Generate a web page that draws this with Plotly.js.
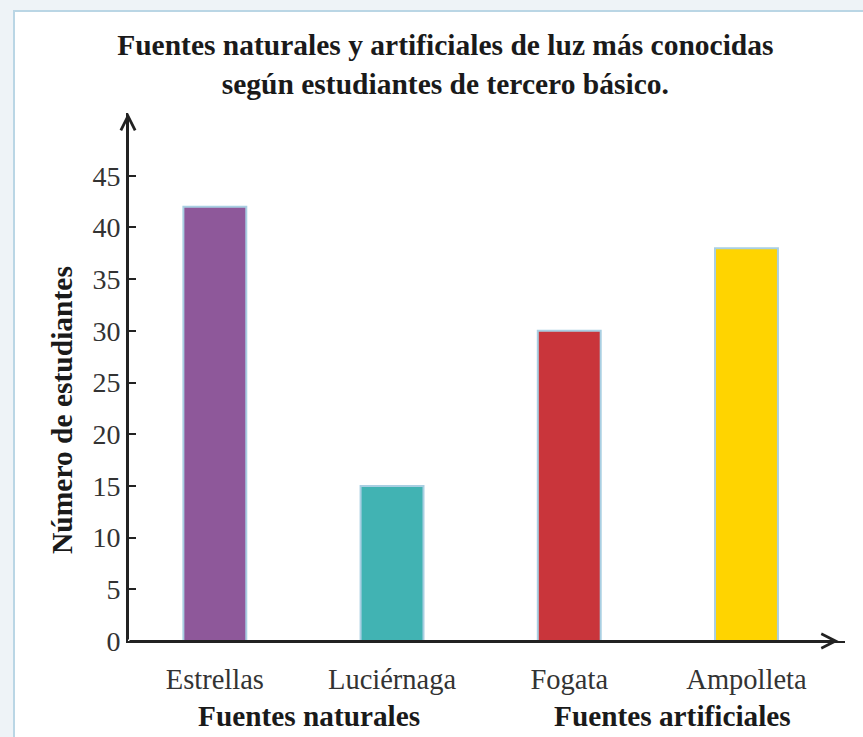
<!DOCTYPE html>
<html>
<head>
<meta charset="utf-8">
<script src="https://cdn.plot.ly/plotly-3.0.1.min.js"></script>
<style>
  html, body { margin: 0; padding: 0; width: 863px; height: 737px; overflow: hidden; background: #eef3f7; }
  #panel { position: absolute; left: 13px; top: 10px; width: 900px; height: 800px; background: #ffffff; border: 2px solid #bad6e5; }
  #chart { position: absolute; left: 0; top: 0; width: 863px; height: 737px; }
</style>
</head>
<body>
<div id="panel"></div>
<div id="chart"></div>
<script>
const categories = ["Estrellas", "Luciérnaga", "Fogata", "Ampolleta"];
const values = [42, 15, 30, 38];
const barColors = ["#8e589a", "#41b3b3", "#c9353b", "#ffd400"];
const groupLabels = ["Fuentes naturales", "Fuentes artificiales"];
const groupCenters = [0.53, 2.58];
const boundaryTicks = [0.43, 2.48];
const yTicks = [0, 5, 10, 15, 20, 25, 30, 35, 40, 45];
const titleText = "Fuentes naturales y artificiales de luz más conocidas<br>según estudiantes de tercero básico.";
const yTitle = "Número de estudiantes";

const serif = "Liberation Serif, serif";
const xRange = [-0.49, 3.556];
const yRange = [0, 51.07];

const data = [{
  type: "bar",
  x: categories,
  y: values,
  width: 0.355,
  marker: { color: barColors, line: { color: "#a9cfe2", width: 2 } },
  hoverinfo: "skip"
}];

const annotations = [
  { xref: "x", yref: "y", axref: "x", ayref: "y", x: 3.52, y: 0, ax: xRange[0], ay: 0,
    text: "", showarrow: true, arrowhead: 5, arrowsize: 1.4, arrowwidth: 2, arrowcolor: "#222", standoff: 0, startstandoff: 0 },
  { xref: "x", yref: "y", axref: "x", ayref: "y", x: xRange[0], y: yRange[1], ax: xRange[0], ay: 0,
    text: "", showarrow: true, arrowhead: 5, arrowsize: 1.4, arrowwidth: 2, arrowcolor: "#222", standoff: 0, startstandoff: 0 },
  { xref: "paper", yref: "paper", x: 0, y: 0.4375, xshift: -66, textangle: -90,
    text: yTitle, showarrow: false, xanchor: "center", yanchor: "middle",
    font: { family: serif, size: 29.5, color: "#1a1a1a", weight: "bold" } }
];
groupLabels.forEach((g, i) => {
  annotations.push({ xref: "x", yref: "paper", x: groupCenters[i], y: 0, yshift: -75,
    text: g, showarrow: false, xanchor: "center", yanchor: "middle",
    font: { family: serif, size: 29.3, color: "#1a1a1a", weight: "bold" } });
});

const layout = {
  width: 863, height: 737,
  margin: { l: 128, r: 18, t: 113, b: 96 },
  paper_bgcolor: "rgba(0,0,0,0)",
  plot_bgcolor: "rgba(0,0,0,0)",
  showlegend: false,
  title: { text: titleText, xref: "container", yref: "container", x: 0.516, y: 0.925, xanchor: "center", yanchor: "top",
    font: { family: serif, size: 29.5, color: "#1a1a1a", weight: "bold" } },
  xaxis: {
    type: "category", range: xRange, showline: true, linecolor: "#222", linewidth: 2,
    ticks: "", showgrid: false, zeroline: false, ticklabelstandoff: 12,
    tickfont: { family: serif, size: 28.5, color: "#333" }
  },
  xaxis2: {
    overlaying: "x", anchor: "y", side: "bottom", type: "linear", range: xRange,
    tickmode: "array", tickvals: boundaryTicks, showticklabels: false,
    ticks: "outside", ticklen: 8, tickwidth: 2, tickcolor: "#222",
    showline: false, showgrid: false, zeroline: false
  },
  yaxis: {
    range: yRange, tickmode: "array", tickvals: yTicks, showline: true, linecolor: "#222", linewidth: 2,
    ticks: "inside", ticklen: 8, tickwidth: 2, tickcolor: "#222",
    showgrid: false, zeroline: false,
    tickfont: { family: serif, size: 28, color: "#333" }
  },
  annotations: annotations
};

Plotly.newPlot("chart", data, layout, { displayModeBar: false, staticPlot: true });
</script>
</body>
</html>
